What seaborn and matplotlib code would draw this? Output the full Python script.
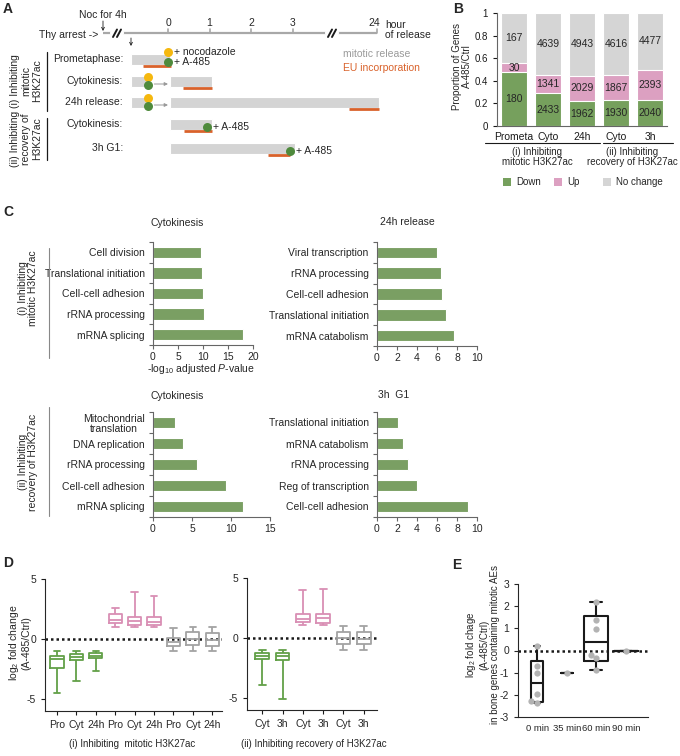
import numpy as np
import pandas as pd
import matplotlib
matplotlib.use("Agg")
import matplotlib.pyplot as plt
import seaborn as sns

# ---------------- data ----------------
# Panel A (schematic)
a_rows = ["Prometaphase:", "Cytokinesis:", "24h release:", "Cytokinesis:", "3h G1:"]
a_hour_ticks = [0, 1, 2, 3, 24]
a_harvest = [0, 1, 24, 1, 3]          # hours after release at harvest
a_eu_start = [-0.6, 0.36, 23.32, 0.38, 2.4]
a_eu_end = [0.07, 1.05, 24.05, 1.05, 2.95]

# Panel B
b_keys = ["i_Prometa", "i_Cyto", "i_24h", "ii_Cyto", "ii_3h"]
b_labels = ["Prometa", "Cyto", "24h", "Cyto", "3h"]
b_down = [180, 2433, 1962, 1930, 2040]
b_up = [30, 1341, 2029, 1867, 2393]
b_nochange = [167, 4639, 4943, 4616, 4477]

# Panel C
c1_terms = ["Cell division", "Translational initiation", "Cell-cell adhesion", "rRNA processing", "mRNA splicing"]
c1_vals = [9.5, 9.7, 9.9, 10.1, 18.0]
c2_terms = ["Viral transcription", "rRNA processing", "Cell-cell adhesion", "Translational initiation", "mRNA catabolism"]
c2_vals = [6.0, 6.4, 6.5, 6.9, 7.7]
c3_terms = ["Mitochondrial\ntranslation", "DNA replication", "rRNA processing", "Cell-cell adhesion", "mRNA splicing"]
c3_vals = [2.8, 3.8, 5.7, 9.3, 11.5]
c4_terms = ["Translational initiation", "mRNA catabolism", "rRNA processing", "Reg of transcription", "Cell-cell adhesion"]
c4_vals = [2.1, 2.6, 3.1, 4.0, 9.1]

# Panel D: five-number summaries [min, q1, median, q3, max]
d_groups = ["Down", "Up", "No change"]
d1_conditions = ["Pro", "Cyt", "24h"]
d1_down = [[-4.53, -2.44, -1.69, -1.39, -0.97], [-3.47, -1.75, -1.53, -1.28, -0.98], [-2.67, -1.6, -1.4, -1.2, -0.98]]
d1_up = [[1.0, 1.3, 1.58, 2.05, 2.6], [1.0, 1.2, 1.5, 1.8, 3.94], [1.0, 1.2, 1.45, 1.8, 3.55]]
d1_nc = [[-0.97, -0.58, -0.22, 0.11, 0.94], [-0.98, -0.5, 0.0, 0.55, 1.0], [-0.98, -0.58, -0.08, 0.53, 1.0]]
d2_conditions = ["Cyt", "3h"]
d2_down = [[-3.93, -1.74, -1.46, -1.26, -0.98], [-5.05, -1.83, -1.52, -1.26, -0.98]]
d2_up = [[1.07, 1.35, 1.55, 1.97, 3.96], [1.07, 1.29, 1.63, 1.97, 4.07]]
d2_nc = [[-0.98, -0.53, 0.0, 0.5, 1.0], [-0.98, -0.53, -0.1, 0.5, 1.0]]

# Panel E
e_times = ["0 min", "35 min", "60 min", "90 min"]
e_summary = {"0 min": [-2.35, -2.31, -1.48, -0.47, 0.22],
             "35 min": [-1.03] * 5,
             "60 min": [-0.88, -0.47, 0.37, 1.55, 2.17],
             "90 min": [0.0] * 5}
e_points = {"0 min": [0.22, -0.71, -1.03, -1.95, -2.30, -2.35],
            "35 min": [-1.03],
            "60 min": [2.17, 1.36, 0.95, -0.22, -0.36, -0.88],
            "90 min": [0.0]}

# ---------------- style ----------------
sns.set_theme(style="ticks", context="paper")
plt.rcParams["font.family"] = ["Liberation Sans", "DejaVu Sans"]
plt.rcParams.update({
    "font.size": 7, "axes.labelsize": 7, "xtick.labelsize": 7, "ytick.labelsize": 7,
    "axes.linewidth": 0.8, "xtick.major.width": 0.8, "ytick.major.width": 0.8,
    "xtick.major.size": 3, "ytick.major.size": 3,
    "mathtext.fontset": "custom", "mathtext.rm": "Liberation Sans",
    "mathtext.it": "Liberation Sans:italic", "mathtext.bf": "Liberation Sans:bold",
})

GREEN = "#76a05d"
PINK = "#dca0c1"
LGRAY = "#d5d5d5"
CGREEN = "#7a9f63"
DGREEN = "#62a048"
DPINK = "#d98fb4"
DGRAY = "#a3a3a3"
ORANGE = "#d9622b"
YELLOW = "#f5b80f"
CIRC_GREEN = "#4e8a3c"
SPINE = "#666666"

W, H = 680, 756
fig = plt.figure(figsize=(6.8, 7.56), dpi=100)


def px_axes(l, t, r, b):
    ax = fig.add_axes([l / W, 1 - b / H, (r - l) / W, (b - t) / H])
    ax.set_facecolor("none")
    return ax


ov = fig.add_axes([0, 0, 1, 1], zorder=10)
ov.set_xlim(0, W)
ov.set_ylim(H, 0)
ov.axis("off")
ov.patch.set_alpha(0)

# panel letters
for lab, x, y in [("A", 3, 9), ("B", 453, 9), ("C", 3, 212), ("D", 3, 563), ("E", 452, 565)]:
    ov.text(x, y, lab, fontsize=10, fontweight="bold", ha="left", va="center")

# ---------------- Panel A ----------------
def tx(h):
    return 168 + 41.5 * h if h <= 12 else 377 - (24 - h) * 41.5

ov.plot([103, tx(24)], [33, 33], color="#a8a8a8", lw=1.6, solid_capstyle="butt")
for h in a_hour_ticks:
    ov.plot([tx(h), tx(h)], [28.5, 33], color="#a8a8a8", lw=1.2)
    ov.text(tx(h) - (3 if h == 24 else 0), 23, str(h), ha="center", va="center", fontsize=7.5)
for bx in [117, 332]:
    ov.plot([bx - 5, bx + 5], [33, 33], color="white", lw=3)
    ov.plot([bx - 4, bx], [37, 29.5], color="k", lw=1.4)
    ov.plot([bx, bx + 4], [37, 29.5], color="k", lw=1.4)
ov.text(385, 30, "hour\nof release", ha="left", va="center", fontsize=7.5, linespacing=1.1)
ov.text(103, 15, "Noc for 4h", ha="center", va="center", fontsize=7.5)
ov.annotate("", xy=(103, 31), xytext=(103, 21),
            arrowprops=dict(arrowstyle="->", lw=0.6, color="k", shrinkA=0, shrinkB=0, mutation_scale=5))
ov.text(98, 35, "Thy arrest ->", ha="right", va="center", fontsize=7.5)
ov.annotate("", xy=(131, 46), xytext=(131, 38),
            arrowprops=dict(arrowstyle="->", lw=0.6, color="k", shrinkA=0, shrinkB=0, mutation_scale=5))

row_y = [59, 81, 102, 124, 148]
for i, (lab, y) in enumerate(zip(a_rows, row_y)):
    ov.text(123, y, lab, ha="right", va="center", fontsize=7.5)
    end = a_harvest[i]
    if i == 0:
        ov.barh(y, tx(0.05) - tx(-0.9), left=tx(-0.9), height=11, color="#d4d4d4")
        ov.plot([tx(a_eu_start[i]), tx(a_eu_end[i])], [y + 6.5, y + 6.5], color=ORANGE, lw=2, solid_capstyle="butt")
        ov.scatter([tx(0)], [y - 7], s=42, color=YELLOW, zorder=5, linewidths=0)
        ov.scatter([tx(0)], [y + 3], s=42, color=CIRC_GREEN, zorder=5, linewidths=0)
        ov.text(tx(0) + 6, y - 7, "+ nocodazole", ha="left", va="center", fontsize=7.5)
        ov.text(tx(0) + 6, y + 3, "+ A-485", ha="left", va="center", fontsize=7.5)
    elif i in (1, 2):
        ov.barh(y, tx(-0.48) - tx(-0.9), left=tx(-0.9), height=11, color="#d4d4d4")
        ov.scatter([tx(-0.48)], [y - 4], s=42, color=YELLOW, zorder=5, linewidths=0)
        ov.scatter([tx(-0.48)], [y + 4], s=42, color=CIRC_GREEN, zorder=6, linewidths=0)
        ov.annotate("", xy=(tx(0.0), y + 3), xytext=(tx(-0.33), y + 3),
                    arrowprops=dict(arrowstyle="-|>", lw=0.7, color="#999999", shrinkA=0, shrinkB=0, mutation_scale=5))
        ov.barh(y, tx(end + 0.05) - tx(0.05), left=tx(0.05), height=11, color="#d4d4d4")
        ov.plot([tx(a_eu_start[i]), tx(a_eu_end[i])], [y + 7, y + 7], color=ORANGE, lw=2, solid_capstyle="butt")
    else:
        ov.barh(y, tx(end + 0.05) - tx(0.05), left=tx(0.05), height=11, color="#d4d4d4")
        ov.plot([tx(a_eu_start[i]), tx(a_eu_end[i])], [y + 7, y + 7], color=ORANGE, lw=2, solid_capstyle="butt")
        ov.scatter([tx(end - 0.05)], [y + 3], s=42, color=CIRC_GREEN, zorder=5, linewidths=0)
        ov.text(tx(end - 0.05) + 6, y + 3, "+ A-485", ha="left", va="center", fontsize=7.5)

ov.text(343, 54, "mitotic release", ha="left", va="center", fontsize=7.5, color="#9a9a9a")
ov.text(343, 68, "EU incorporation", ha="left", va="center", fontsize=7.5, color=ORANGE)
ov.plot([47, 47], [52, 111], color="k", lw=0.9)
ov.plot([47, 47], [118, 160], color="k", lw=0.9)
ov.text(26, 81, "(i) Inhibiting\nmitotic\nH3K27ac", rotation=90, ha="center", va="center",
        fontsize=7.5, multialignment="center", linespacing=1.1)
ov.text(26, 139, "(ii) Inhibiting\nrecovery of\nH3K27ac", rotation=90, ha="center", va="center",
        fontsize=7.5, multialignment="center", linespacing=1.1)

# ---------------- Panel B ----------------
axB = px_axes(497, 13, 667, 126)
down = np.array(b_down, float)
up = np.array(b_up, float)
nc = np.array(b_nochange, float)
tot = down + up + nc
p_down = down / tot
p_up = up / tot
p_nc = nc / tot
sns.barplot(x=b_keys, y=list(p_down + p_up + p_nc), color=LGRAY, width=0.75, saturation=1, ax=axB, errorbar=None)
sns.barplot(x=b_keys, y=list(p_down + p_up), color=PINK, width=0.75, saturation=1, ax=axB, errorbar=None)
sns.barplot(x=b_keys, y=list(p_down), color=GREEN, width=0.75, saturation=1, ax=axB, errorbar=None)
for i in range(len(b_keys)):
    axB.text(i, p_down[i] / 2, str(b_down[i]), ha="center", va="center", fontsize=7.5)
    axB.text(i, p_down[i] + p_up[i] / 2, str(b_up[i]), ha="center", va="center", fontsize=7.5)
    axB.text(i, p_down[i] + p_up[i] + p_nc[i] / 2, str(b_nochange[i]), ha="center", va="center", fontsize=7.5)
axB.set_xlim(-0.5, 4.5)
axB.set_ylim(0, 1)
axB.set_yticks([0, 0.2, 0.4, 0.6, 0.8, 1.0])
axB.set_yticklabels(["0", "0.2", "0.4", "0.6", "0.8", "1"])
axB.set_xticks(range(5))
axB.set_xticklabels(b_labels, fontsize=7.5)
axB.tick_params(axis="x", length=0, pad=4)
axB.set_xlabel("")
axB.set_ylabel("")
sns.despine(ax=axB)
for s in ["left", "bottom"]:
    axB.spines[s].set_color(SPINE)
axB.tick_params(colors="k")
ov.text(462, 66, "Proportion of Genes\nA-485/Ctrl", rotation=90, ha="center", va="center",
        fontsize=7, multialignment="center", linespacing=1.0)
ov.plot([485, 600], [143, 143], color="k", lw=0.8)
ov.plot([603, 673], [143, 143], color="k", lw=0.8)
ov.text(537, 157, "(i) Inhibiting\nmitotic H3K27ac", ha="center", va="center", fontsize=7,
        multialignment="center", linespacing=1.1)
ov.text(632, 157, "(ii) Inhibiting\nrecovery of H3K27ac", ha="center", va="center", fontsize=7,
        multialignment="center", linespacing=1.1)
for lab, col, x in [("Down", GREEN, 507), ("Up", PINK, 558), ("No change", LGRAY, 607)]:
    ov.scatter([x], [182], marker="s", s=28, color=col, linewidths=0)
    ov.text(x + 9, 182, lab, ha="left", va="center", fontsize=7)

# ---------------- Panel C ----------------
def hbar(ax, terms, vals, xmax, step, labels=None):
    sns.barplot(x=vals, y=terms, orient="h", color=CGREEN, width=0.55, saturation=1, ax=ax, errorbar=None)
    ax.set_ylim(4.5, -0.5)
    ax.set_xlim(0, xmax)
    ticks = np.arange(0, xmax + 0.001, step)
    ax.set_xticks(ticks)
    ax.set_xticklabels(labels if labels else [f"{t:g}" for t in ticks], fontsize=7.5)
    ax.set_yticks(range(5))
    ax.set_yticklabels(terms, fontsize=7.5)
    ax.set_yticks(np.arange(-0.5, 5, 1), minor=True)
    ax.tick_params(axis="y", which="major", length=0, pad=6)
    ax.tick_params(axis="y", which="minor", length=3, color=SPINE, width=0.8)
    ax.tick_params(axis="x", length=3, color=SPINE, pad=2)
    ax.set_xlabel("")
    ax.set_ylabel("")
    sns.despine(ax=ax)
    for s in ["left", "bottom"]:
        ax.spines[s].set_color(SPINE)

axC1 = px_axes(153, 242, 253, 345)
hbar(axC1, c1_terms, c1_vals, 20, 5)
axC2 = px_axes(377, 242, 477, 346)
hbar(axC2, c2_terms, c2_vals, 10, 2)
axC3 = px_axes(153, 412, 270, 517)
hbar(axC3, c3_terms, c3_vals, 15, 5)
axC4 = px_axes(377, 412, 477, 517)
hbar(axC4, c4_terms, c4_vals, 10, 2)
for t in axC3.get_yticklabels():
    t.set_multialignment("center")
    t.set_linespacing(1.0)

ov.text(177, 223, "Cytokinesis", ha="center", va="center", fontsize=7.5)
ov.text(380, 222, "24h release", ha="left", va="center", fontsize=7.5)
ov.text(177, 396, "Cytokinesis", ha="center", va="center", fontsize=7.5)
ov.text(378, 395, "3h  G1", ha="left", va="center", fontsize=7.5)
ov.text(201, 369, r"-log$_{10}$ adjusted $P$-value", ha="center", va="center", fontsize=7.5)
ov.plot([49, 49], [248, 358], color="#888888", lw=0.8)
ov.plot([49, 49], [407, 516], color="#888888", lw=0.8)
ov.text(28, 288, "(i) Inhibiting\nmitotic H3K27ac", rotation=90, ha="center", va="center",
        fontsize=7.5, multialignment="center", linespacing=1.1)
ov.text(28, 462, "(ii) Inhibiting\nrecovery of H3K27ac", rotation=90, ha="center", va="center",
        fontsize=7.5, multialignment="center", linespacing=1.1)

# ---------------- Panel D ----------------
def dframe(conditions, down_s, up_s, nc_s):
    rows = []
    keys = []
    for g, summ in zip(d_groups, [down_s, up_s, nc_s]):
        for c, vals in zip(conditions, summ):
            k = f"{g}|{c}"
            keys.append(k)
            for v in vals:
                rows.append({"key": k, "value": v, "group": g})
    return pd.DataFrame(rows), keys

pal = {"Down": DGREEN, "Up": DPINK, "No change": DGRAY}

def dbox(ax, df, keys, labels):
    sns.boxplot(data=df, x="key", y="value", hue="group", order=keys, hue_order=d_groups,
                palette=pal, fill=False, whis=(0, 100), width=0.68, linewidth=1.3,
                saturation=1, legend=False, ax=ax)
    ax.axhline(0, color="k", ls=(0, (1, 1.2)), lw=1.8, zorder=0)
    ax.set_ylim(-6, 5)
    ax.set_yticks([-5, 0, 5])
    ax.set_yticklabels(["-5", "0", "5"], fontsize=7.5)
    ax.set_xticks(range(len(keys)))
    ax.set_xticklabels(labels, fontsize=7.5)
    ax.set_xlabel("")
    ax.set_ylabel("")
    ax.tick_params(axis="both", length=3, color="k")
    sns.despine(ax=ax)

axD1 = px_axes(45, 579, 222, 711)
dfd1, k1 = dframe(d1_conditions, d1_down, d1_up, d1_nc)
dbox(axD1, dfd1, k1, d1_conditions * 3)
axD1.set_xlim(-0.62, 8.5)
axD2 = px_axes(247, 578, 377, 710)
dfd2, k2 = dframe(d2_conditions, d2_down, d2_up, d2_nc)
dbox(axD2, dfd2, k2, d2_conditions * 3)
axD2.set_xlim(-0.75, 5.65)
ov.text(19, 643, "log$_2$ fold change\n(A-485/Ctrl)", rotation=90, ha="center", va="center",
        fontsize=7.5, multialignment="center", linespacing=1.1)
ov.text(132, 744, "(i) Inhibiting  mitotic H3K27ac", ha="center", va="center", fontsize=7)
ov.text(314, 744, "(ii) Inhibiting recovery of H3K27ac", ha="center", va="center", fontsize=7)

# ---------------- Panel E ----------------
axE = px_axes(518, 584, 648, 717)
rows = [{"time": t, "value": v} for t in e_times for v in e_summary[t]]
dfe = pd.DataFrame(rows)
narrow = dfe[dfe["time"].isin(["0 min", "35 min"])]
wide = dfe[dfe["time"].isin(["60 min", "90 min"])]
sns.boxplot(data=narrow, x="time", y="value", order=e_times, color="k", fill=False,
            whis=(0, 100), width=0.42, linewidth=1.5, ax=axE)
sns.boxplot(data=wide, x="time", y="value", order=e_times, color="k", fill=False,
            whis=(0, 100), width=0.82, linewidth=1.5, ax=axE)
prow = [{"time": t, "value": v} for t in e_times for v in e_points[t]]
sns.swarmplot(data=pd.DataFrame(prow), x="time", y="value", order=e_times, color="#b3b3b3",
              size=4.5, ax=axE, zorder=5)
axE.axhline(0, color="k", ls=(0, (1, 1.2)), lw=1.8, zorder=0)
axE.set_xlim(-0.65, 3.75)
axE.set_ylim(-3, 3)
axE.set_yticks(range(-3, 4))
axE.set_yticklabels([str(v) for v in range(-3, 4)], fontsize=7.5)
axE.set_xticks(range(4))
axE.set_xticklabels(e_times, fontsize=6.8)
axE.tick_params(axis="x", length=0, pad=5)
axE.tick_params(axis="y", length=3)
axE.set_xlabel("")
axE.set_ylabel("")
sns.despine(ax=axE)
ov.text(482, 645, "log$_2$ fold chage\n(A-485/Ctrl)\nin bone genes containing mitotic AEs", rotation=90,
        ha="center", va="center", fontsize=7, multialignment="center", linespacing=1.1)

fig.savefig("out.png", dpi=100)
